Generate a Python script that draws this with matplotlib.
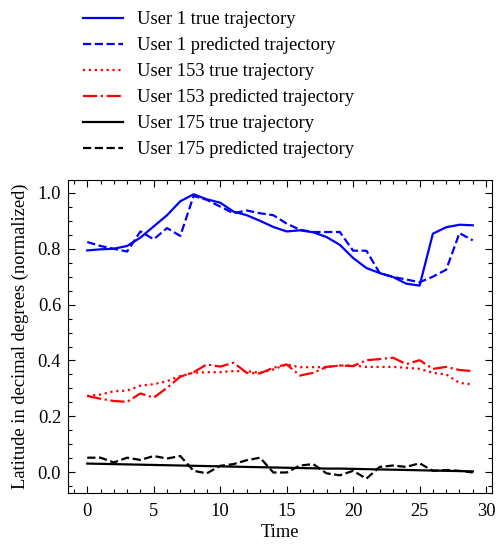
import matplotlib
matplotlib.use("Agg")
import matplotlib.pyplot as plt
from matplotlib.ticker import MultipleLocator

t = list(range(30))

user1_true = [0.794, 0.798, 0.800, 0.810, 0.840, 0.880, 0.920, 0.970, 0.995, 0.977,
              0.965, 0.933, 0.920, 0.900, 0.878, 0.862, 0.866, 0.859, 0.842, 0.814,
              0.767, 0.731, 0.713, 0.699, 0.675, 0.668, 0.854, 0.877, 0.886, 0.884]
user1_pred = [0.824, 0.810, 0.800, 0.790, 0.862, 0.834, 0.874, 0.846, 0.989, 0.975,
              0.951, 0.927, 0.937, 0.927, 0.920, 0.890, 0.868, 0.860, 0.860, 0.860,
              0.793, 0.793, 0.713, 0.699, 0.690, 0.680, 0.700, 0.725, 0.856, 0.830]
user153_true = [0.273, 0.278, 0.290, 0.292, 0.310, 0.315, 0.326, 0.344, 0.356, 0.358,
                0.358, 0.362, 0.362, 0.356, 0.368, 0.386, 0.376, 0.376, 0.376, 0.382,
                0.382, 0.377, 0.377, 0.377, 0.374, 0.370, 0.356, 0.350, 0.320, 0.314]
user153_pred = [0.273, 0.263, 0.255, 0.252, 0.282, 0.267, 0.302, 0.342, 0.358, 0.386,
                0.378, 0.392, 0.356, 0.354, 0.374, 0.386, 0.346, 0.356, 0.377, 0.382,
                0.380, 0.401, 0.405, 0.410, 0.387, 0.401, 0.370, 0.377, 0.366, 0.362]
user175_true = [0.031, 0.030, 0.029, 0.028, 0.027, 0.026, 0.025, 0.024, 0.023, 0.022,
                0.021, 0.020, 0.019, 0.018, 0.017, 0.016, 0.015, 0.014, 0.013, 0.013,
                0.012, 0.011, 0.010, 0.009, 0.008, 0.007, 0.006, 0.005, 0.004, 0.003]
user175_pred = [0.052, 0.052, 0.035, 0.052, 0.044, 0.058, 0.049, 0.058, 0.005, -0.004,
                0.023, 0.029, 0.043, 0.052, -0.001, -0.001, 0.024, 0.029, -0.004, -0.011,
                0.005, -0.023, 0.019, 0.024, 0.019, 0.032, 0.005, 0.008, 0.005, -0.001]

labels = ["User 1 true trajectory", "User 1 predicted trajectory",
          "User 153 true trajectory", "User 153 predicted trajectory",
          "User 175 true trajectory", "User 175 predicted trajectory"]

plt.rcParams['font.family'] = ['Liberation Serif', 'DejaVu Serif']
plt.rcParams['mathtext.fontset'] = 'stix'

FS = 13.3

fig = plt.figure(figsize=(4.96, 5.44), dpi=100)
ax = fig.add_axes([0.137, 0.094, 0.855, 0.575])

lw = 1.6
ax.plot(t, user1_true, color='#0000ff', ls='-', lw=lw, label=labels[0])
ax.plot(t, user1_pred, color='#0000ff', ls='--', lw=lw, label=labels[1])
ax.plot(t, user153_true, color='#ff0000', ls=':', lw=lw, label=labels[2])
ax.plot(t, user153_pred, color='#ff0000', ls='-.', lw=lw, label=labels[3])
ax.plot(t, user175_true, color='black', ls='-', lw=lw, label=labels[4])
ax.plot(t, user175_pred, color='black', ls='--', lw=lw, label=labels[5])

ax.set_xlabel("Time", fontsize=FS, labelpad=3)
ax.set_ylabel("Latitude in decimal degrees (normalized)", fontsize=FS, labelpad=6)
ax.xaxis.set_major_locator(MultipleLocator(5))
ax.xaxis.set_minor_locator(MultipleLocator(1))
ax.yaxis.set_major_locator(MultipleLocator(0.2))
ax.yaxis.set_minor_locator(MultipleLocator(0.05))
ax.tick_params(which='both', direction='in', top=True, right=True, labelsize=FS)
ax.tick_params(axis='x', which='both', pad=7)
ax.tick_params(axis='y', which='both', pad=5)
ax.tick_params(which='major', length=5, width=0.8)
ax.tick_params(which='minor', length=3, width=0.8)

fig.legend(loc='upper left', bbox_to_anchor=(0.133, 1.01), frameon=False,
           fontsize=FS, handlelength=2.17, labelspacing=0.49, handletextpad=0.76)

fig.savefig("out.png", dpi=100)
